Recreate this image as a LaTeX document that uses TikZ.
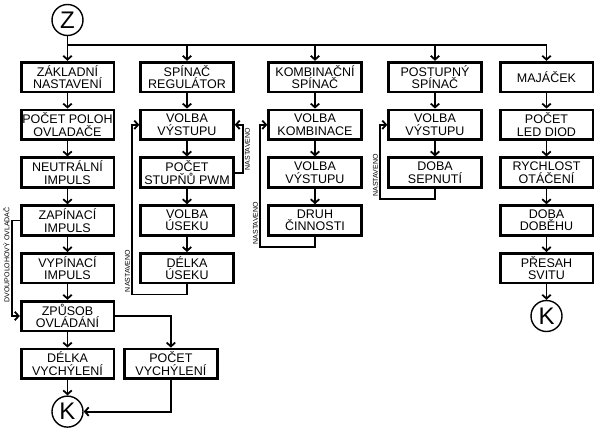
\documentclass[tikz,border=0pt]{standalone}
\usepackage{fontspec}
\setmainfont{Liberation Sans}
\usepackage{tikz}
\usetikzlibrary{matrix,positioning,arrows.meta}

\tikzset{
    box/.style={draw, line width=2.7pt, minimum width=92.7pt, minimum height=29.7pt,
        inner sep=1pt, align=center, font=\fontsize{12.5}{12.5}\selectfont},
    kruh/.style={draw, circle, line width=1.4pt, minimum size=31pt, inner sep=0pt,
        font=\fontsize{24}{24}\selectfont},
    popis/.style={rotate=90, inner sep=1.5pt, font=\fontsize{7}{7}\selectfont}
}

\begin{document}
\begin{tikzpicture}[x=1pt, y=1pt,
        line width=1.8pt,
        >={Straight Barb[length=3.8pt,width=8.5pt]} % Pfeilspitzen
        ]
            \useasboundingbox (0,0) rectangle (600,-434);

            \matrix (S) [
                matrix of nodes, nodes in empty cells,
                inner sep=0pt, outer sep=0pt,
                column sep=111.5pt, row sep=47.8pt,
                nodes={minimum size=0pt, inner sep=0pt, outer sep=0pt},
                matrix anchor=north west
            ] at (67.5,-77)
            {
                &[8pt] &[16.5pt] &[8.5pt] &  \\
                &&&&  \\
                &&&&  \\
                &&&&  \\
                &&&&  \\
                &&&&  \\
                &&&&  \\
                &&&&  \\
            };

            % Start
            \node[kruh] (z) at (67.5,-20) {Z};

            % Bloky
            \node[box] (zn) at (S-1-1) {ZÁKLADNÍ\\NASTAVENÍ};
            \node[box] (pp) at (S-2-1) {POČET POLOH\\OVLADAČE};
            \node[box] (ni) at (S-3-1) {NEUTRÁLNÍ\\IMPULS};
            \node[box] (zi) at (S-4-1) {ZAPÍNACÍ\\IMPULS};
            \node[box] (vi) at (S-5-1) {VYPÍNACÍ\\IMPULS};
            \node[box] (zo) at (S-6-1) {ZPŮSOB\\OVLÁDÁNÍ};
            \node[box] (dv) at (S-7-1) {DÉLKA\\VYCHÝLENÍ};
            \node[box, right=8pt of dv] (pv) {POČET\\VYCHÝLENÍ};

            \node[box] (sr) at (S-1-2) {SPÍNAČ\\REGULÁTOR};
            \node[box] (vv2) at (S-2-2) {VOLBA\\VÝSTUPU};
            \node[box] (ps) at (S-3-2) {POČET\\STUPŇŮ PWM};
            \node[box] (vu) at (S-4-2) {VOLBA\\ÚSEKU};
            \node[box] (du) at (S-5-2) {DÉLKA\\ÚSEKU};

            \node[box] (ks) at (S-1-3) {KOMBINAČNÍ\\SPÍNAČ};
            \node[box] (vk) at (S-2-3) {VOLBA\\KOMBINACE};
            \node[box] (vv3) at (S-3-3) {VOLBA\\VÝSTUPU};
            \node[box] (dc) at (S-4-3) {DRUH\\ČINNOSTI};

            \node[box] (pos) at (S-1-4) {POSTUPNÝ\\SPÍNAČ};
            \node[box] (vv4) at (S-2-4) {VOLBA\\VÝSTUPU};
            \node[box] (ds) at (S-3-4) {DOBA\\SEPNUTÍ};

            \node[box] (mj) at (S-1-5) {MAJÁČEK};
            \node[box] (ld) at (S-2-5) {POČET\\LED DIOD};
            \node[box] (ro) at (S-3-5) {RYCHLOST\\OTÁČENÍ};
            \node[box] (dd) at (S-4-5) {DOBA\\DOBĚHU};
            \node[box] (px) at (S-5-5) {PŘESAH\\SVITU};

            % Konec
            \node[kruh] (k1) at (S-8-1) {K};
            \node[kruh] (k2) at (S-6-5) {K};

            % Rozvod
            \coordinate[below=9pt of z] (bus);
            \draw[->] (z) -- (zn);
            \draw (bus) -- (bus -| mj);
            \path[->] (bus -| sr) edge (sr) (bus -| ks) edge (ks)
                      (bus -| pos) edge (pos) (bus -| mj) edge (mj);

            % Sloupce
            \path[->] (zn) edge (pp) (pp) edge (ni) (ni) edge (zi) (zi) edge (vi)
                      (vi) edge (zo) (zo) edge (dv) (dv) edge (k1);
            \path[->] (sr) edge (vv2) (vv2) edge (ps) (ps) edge (vu) (vu) edge (du);
            \path[->] (ks) edge (vk) (vk) edge (vv3) (vv3) edge (dc);
            \path[->] (pos) edge (vv4) (vv4) edge (ds);
            \path[->] (mj) edge (ld) (ld) edge (ro) (ro) edge (dd) (dd) edge (px)
                      (px) edge (k2);
            \draw[->] (zo.east) -| (pv);
            \draw[->] (pv) |- (k1);

            % Smycky
            \draw[->] (zi.west) -- ++(-8pt,0)
                |- node[popis, pos=0.18, anchor=south] {DVOUPOLOHOVÝ OVLADAČ} (zo.west);
            \draw[->] (du.south) -- ++(0,-10pt)
                -| node[popis, pos=0.5, anchor=south west] {NASTAVENO} ([xshift=-7pt]vv2.west)
                -- (vv2.west);
            \draw[->] (ps.east) -- ++(8pt,0) node[popis, anchor=north west] {NASTAVENO}
                |- (vv2.east);
            \draw[->] (dc.south) -- ++(0,-10pt)
                -| node[popis, pos=0.5, anchor=south west] {NASTAVENO} ([xshift=-7pt]vk.west)
                -- (vk.west);
            \draw[->] (ds.south) -- ++(0,-10pt)
                -| node[popis, pos=0.5, anchor=south west] {NASTAVENO} ([xshift=-7pt]vv4.west)
                -- (vv4.west);

        \end{tikzpicture}
\end{document}
